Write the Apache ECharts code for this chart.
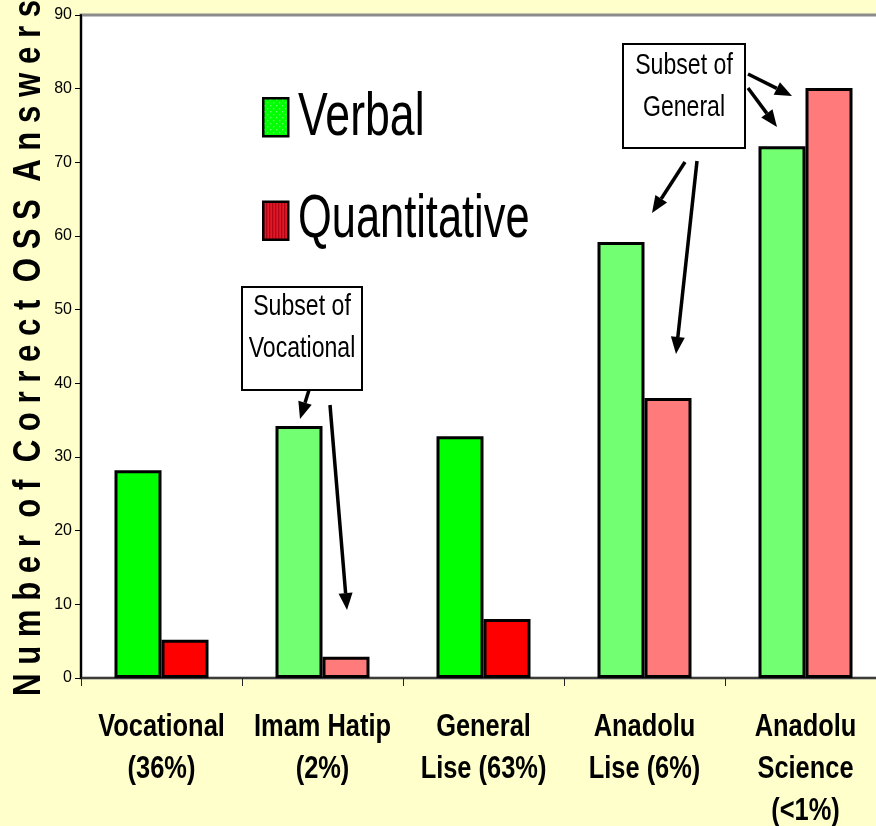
<!DOCTYPE html>
<html>
<head>
<meta charset="utf-8">
<script src="https://cdn.jsdelivr.net/npm/echarts@6/dist/echarts.min.js"></script>
<style>
  html, body { margin: 0; padding: 0; background: #FFFFCC; }
  #chart { width: 876px; height: 826px; }
</style>
</head>
<body>
<div id="chart"></div>
<script>
// School types (share of students in parentheses)
const categories = [
  'Vocational\n(36%)',
  'Imam Hatip\n(2%)',
  'General\nLise (63%)',
  'Anadolu\nLise (6%)',
  'Anadolu\nScience\n(<1%)'
];
// Mean number of correct OSS answers
const verbal = [28.2, 34.2, 32.8, 59.2, 72.2];
const quantitative = [5.2, 2.9, 8.0, 38.0, 80.1];
// Subsets are drawn with a lighter fill
const isSubset = [false, true, false, true, true];
const seriesNames = ['Verbal', 'Quantitative'];
const yTicks = { min: 0, max: 90, step: 10 };
const yTitle = 'Number of Correct OSS Answers';

const SANS = '"Liberation Sans", Arial, sans-serif';

// small repeating canvas fills for the legend swatches
function makePattern(size, painter) {
  const c = document.createElement('canvas');
  c.width = size; c.height = size;
  painter(c.getContext('2d'));
  return { image: c, repeat: 'repeat' };
}
const greenDots = makePattern(6, g => {
  g.fillStyle = '#00FF00'; g.fillRect(0, 0, 6, 6);
  g.fillStyle = '#C0FFC0'; g.fillRect(1, 1, 1, 1); g.fillRect(4, 4, 1, 1);
});
const redStripes = makePattern(3, g => {
  g.fillStyle = '#E01828'; g.fillRect(0, 0, 3, 3);
  g.fillStyle = '#A00010'; g.fillRect(0, 0, 1, 3);
});

function barData(values, solid, light) {
  return values.map((v, i) => ({
    value: v,
    itemStyle: { color: isSubset[i] ? light : solid }
  }));
}

// arrow made of a shaft and a triangular head
function arrow(x1, y1, x2, y2) {
  const dx = x2 - x1, dy = y2 - y1;
  const len = Math.sqrt(dx * dx + dy * dy);
  const ux = dx / len, uy = dy / len;
  const headLen = 17, headHalf = 7;
  const bx = x2 - ux * headLen, by = y2 - uy * headLen;
  return [
    { type: 'line', shape: { x1: x1, y1: y1, x2: bx, y2: by },
      style: { stroke: '#000', lineWidth: 3.5 }, z: 100 },
    { type: 'polygon',
      shape: { points: [[x2, y2], [bx - uy * headHalf, by + ux * headHalf], [bx + uy * headHalf, by - ux * headHalf]] },
      style: { fill: '#000' }, z: 100 }
  ];
}
// condensed text: a horizontally squeezed glyph run
function narrowText(text, x, y, size, squeeze, opts) {
  opts = opts || {};
  return {
    type: 'text', x: x, y: y, z: 101,
    scaleX: squeeze, rotation: opts.rotation || 0,
    style: {
      text: text, fill: '#000',
      font: (opts.weight || 'normal') + ' ' + size + 'px ' + SANS,
      align: opts.align || 'center', verticalAlign: opts.vAlign || 'middle',
      lineHeight: opts.lineHeight || size
    }
  };
}
function noteBox(x, y, w, h, lines, firstLineY) {
  const out = [
    { type: 'rect', shape: { x: x, y: y, width: w, height: h },
      style: { fill: '#fff', stroke: '#000', lineWidth: 2 }, z: 100 }
  ];
  lines.forEach((t, i) => out.push(narrowText(t, x + w / 2, firstLineY + i * 42, 30, 0.77)));
  return out;
}
// letter-spaced title: one space between letters, two between words
function spaced(s) {
  return s.split(' ').map(w => w.split('').join(' ')).join('  ');
}

const chart = echarts.init(document.getElementById('chart'), null, { renderer: 'canvas' });

chart.setOption({
  backgroundColor: '#FFFFCC',
  animation: false,
  grid: {
    left: 81, top: 15, right: -10, bottom: 148,
    outerBoundsMode: 'none',
    show: true, backgroundColor: '#ffffff', borderColor: '#8c8c8c', borderWidth: 3
  },
  legend: {
    orient: 'vertical',
    left: 257, top: 92,
    icon: 'rect',
    itemWidth: 25, itemHeight: 38, itemGap: 63,
    formatter: () => '',
    data: [
      { name: seriesNames[0], itemStyle: { color: greenDots, borderColor: '#000', borderWidth: 2.5 } },
      { name: seriesNames[1], itemStyle: { color: redStripes, borderColor: '#000', borderWidth: 2.5 } }
    ]
  },
  xAxis: {
    type: 'category',
    data: categories,
    boundaryGap: true,
    axisLine: { lineStyle: { color: '#222', width: 1.5 } },
    axisTick: { show: true, length: 8, lineStyle: { color: '#222' } },
    axisLabel: { show: false }
  },
  yAxis: {
    type: 'value',
    min: yTicks.min, max: yTicks.max, interval: yTicks.step,
    axisLine: { show: true, lineStyle: { color: '#000', width: 2 } },
    axisTick: { show: true, length: 6, lineStyle: { color: '#000' } },
    axisLabel: { fontFamily: SANS, fontSize: 16, color: '#000', margin: 9 },
    splitLine: { show: false }
  },
  series: [
    {
      name: seriesNames[0], type: 'bar', barWidth: 47, barGap: '0%',
      itemStyle: { color: '#00FF00', borderColor: '#000', borderWidth: 3 },
      data: barData(verbal, '#00FF00', '#72FF72')
    },
    {
      name: seriesNames[1], type: 'bar', barWidth: 47, barGap: '0%',
      itemStyle: { color: '#FF0000', borderColor: '#000', borderWidth: 3 },
      data: barData(quantitative, '#FF0000', '#FF7A7A')
    }
  ]
});

// category labels, legend names, axis title and call-outs
const axisY = chart.convertToPixel({ yAxisIndex: 0 }, 0);
const graphics = [];
categories.forEach((c, i) => {
  const cx = chart.convertToPixel({ xAxisIndex: 0 }, i);
  graphics.push(narrowText(c, cx, axisY + 28, 31, 0.82,
    { weight: 'bold', vAlign: 'top', lineHeight: 42 }));
});
graphics.push(narrowText(seriesNames[0], 298, 118, 62, 0.72, { align: 'left' }));
graphics.push(narrowText(seriesNames[1], 298, 220, 62, 0.7, { align: 'left' }));
graphics.push(narrowText(spaced(yTitle), 30, 348, 38, 0.82,
  { weight: 'bold', rotation: Math.PI / 2 }));

graphics.push.apply(graphics, [].concat(
  noteBox(242, 287, 120, 103, ['Subset of', 'Vocational'], 307),
  arrow(309, 390, 300, 419),
  arrow(330, 405, 347, 610),
  noteBox(623, 44, 122, 104, ['Subset of', 'General'], 66),
  arrow(748, 74, 792, 96),
  arrow(748, 88, 777, 127),
  arrow(685, 162, 652, 213),
  arrow(697, 161, 676, 354)
));
chart.setOption({ graphic: graphics });
</script>
</body>
</html>
